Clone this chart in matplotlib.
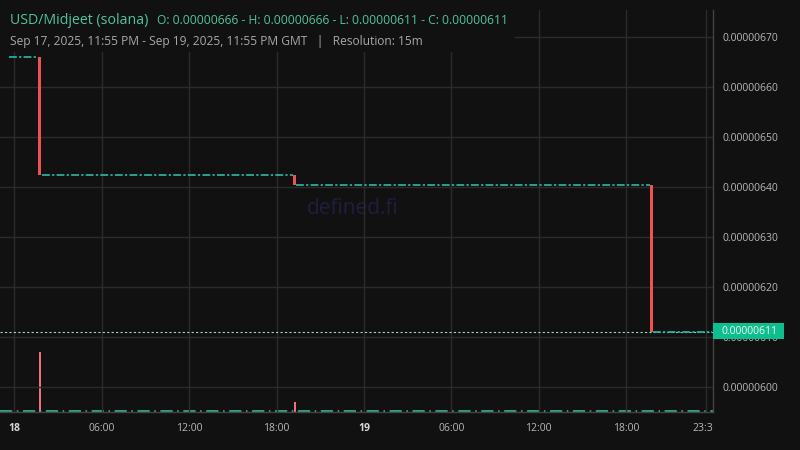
import matplotlib
matplotlib.use("Agg")
from matplotlib import pyplot as plt
from matplotlib.patches import Rectangle
from matplotlib.transforms import Bbox, TransformedBbox
import numpy as np
import pandas as pd

plt.rcParams['font.family'] = ['Open Sans', 'DejaVu Sans']

# candles that moved (all red), times in GMT
candle_times = pd.to_datetime(["2025-09-18 01:45", "2025-09-18 19:15", "2025-09-19 19:45"])
candle_open = [6.66e-6, 6.424e-6, 6.405e-6]
candle_close = [6.424e-6, 6.405e-6, 6.11e-6]
candle_volume = [60, 10, 0.6]

# flat stretches (open == close) between the moves
flat_start = pd.to_datetime(["2025-09-17 23:40", "2025-09-18 01:53", "2025-09-18 19:22", "2025-09-19 19:52"])
flat_end = pd.to_datetime(["2025-09-18 01:38", "2025-09-18 19:08", "2025-09-19 19:38", "2025-09-19 23:52"])
flat_price = [6.66e-6, 6.424e-6, 6.405e-6, 6.11e-6]

last_price = 6.11e-6
y_ticks = [6.0e-6, 6.1e-6, 6.2e-6, 6.3e-6, 6.4e-6, 6.5e-6, 6.6e-6, 6.7e-6]
x_ticks = pd.to_datetime(["2025-09-18 00:00", "2025-09-18 06:00", "2025-09-18 12:00", "2025-09-18 18:00",
                          "2025-09-19 00:00", "2025-09-19 06:00", "2025-09-19 12:00", "2025-09-19 18:00",
                          "2025-09-19 23:30"])
x_labels = ["18", "06:00", "12:00", "18:00", "19", "06:00", "12:00", "18:00", "23:30"]

bg = '#111111'
teal = '#2ab3a3'
red = '#ef5350'
grid_c = '#2b2b2b'

fig = plt.figure(figsize=(8, 4.5), dpi=100, facecolor=bg)
ax = fig.add_axes([0, 1 - 412 / 450, 712.5 / 800, 402 / 450], facecolor=bg)

# volume first (behind prices)
ax2 = ax.twinx()
ax2.set_zorder(0)
ax.set_zorder(1)
ax.patch.set_visible(False)
ax2.patch.set_visible(True)
ax2.patch.set_facecolor(bg)
ax2.bar(candle_times, candle_volume, width=0.5 / 96, color='#ef6f7c', align='center')
ax2.axhline(1.0, color='#3fc4a8', lw=1.1, ls=(0, (8, 3, 1, 3)))
ax2.set_ylim(0, 402)
ax2.set_yticks([])
for s in ax2.spines.values():
    s.set_visible(False)

for t0, t1, p in zip(flat_start, flat_end, flat_price):
    ax.plot([t0, t1], [p, p], color=teal, lw=1.25, ls=(0, (4.5, 1.3, 1.3, 1.3)))

for t, o, c in zip(candle_times, candle_open, candle_close):
    ax.bar(t, c - o, bottom=o, width=0.75 / 96, color=red, align='center')

ax.axhline(last_price, color='#8fdcc8', lw=0.8, ls=(0, (2, 2)), zorder=1)

ax.set_xlim(pd.Timestamp("2025-09-17 23:01"), pd.Timestamp("2025-09-19 23:56"))
ax.set_ylim(5.95e-6, 6.754e-6)

ax.set_xticks(x_ticks)
ax.set_xticklabels(x_labels)
ax.set_yticks(y_ticks)
ax.set_yticklabels(["%.8f" % v for v in y_ticks])
ax.yaxis.tick_right()
ax.grid(True, color=grid_c, lw=1)
ax.set_axisbelow(True)
ax2.grid(False)
ax.tick_params(axis='both', length=0, colors='#b8b8b8', labelsize=7.5)
ax.tick_params(axis='x', pad=8)
ax.tick_params(axis='y', pad=7)

clip = TransformedBbox(Bbox([[0, 0], [712.5 / 800, 1]]), fig.transFigure)
for lab in ax.get_xticklabels():
    if lab.get_text() in ("18", "19"):
        lab.set_fontweight('bold')
        lab.set_color('#d8d8d8')
    lab.set_clip_on(True)
    lab.set_clip_box(clip)

for name, s in ax.spines.items():
    if name in ('right', 'bottom'):
        s.set_color('#444444')
        s.set_linewidth(1)
    else:
        s.set_visible(False)

# watermark
ax.text(0.495, 0.505, "defined.fi", transform=ax.transAxes, ha='center', va='center',
        fontsize=15, color='#1e1e3e', zorder=0)

# header background box hides the grid under the legend text
fig.add_artist(Rectangle((0, 1 - 52 / 450), 515 / 800, 52 / 450, transform=fig.transFigure,
                         facecolor=bg, edgecolor='none', zorder=2))

fig.text(10 / 800, 1 - 20 / 450, "USD/Midjeet (solana)", color='#4fc3a1', fontsize=10.2,
         va='center', ha='left', zorder=3)
fig.text(157 / 800, 1 - 20 / 450, "O: 0.00000666 - H: 0.00000666 - L: 0.00000611 - C: 0.00000611",
         color='#4fc3a1', fontsize=8.7, va='center', ha='left', zorder=3)
fig.text(10 / 800, 1 - 41 / 450,
         "Sep 17, 2025, 11:55 PM - Sep 19, 2025, 11:55 PM GMT   |   Resolution: 15m",
         color='#a8a8a8', fontsize=8.65, va='center', ha='left', zorder=3)

# last price tag
fig.add_artist(Rectangle((712.5 / 800, 1 - 339 / 450), 71 / 800, 16 / 450, transform=fig.transFigure,
                         facecolor='#0dbf8f', edgecolor='none', zorder=2))
fig.text(722 / 800, 1 - 331 / 450, "%.8f" % last_price, color='#f4f4f4', fontsize=7.5,
         va='center', ha='left', zorder=3)

plt.savefig("out.png", dpi=100, facecolor=bg)
